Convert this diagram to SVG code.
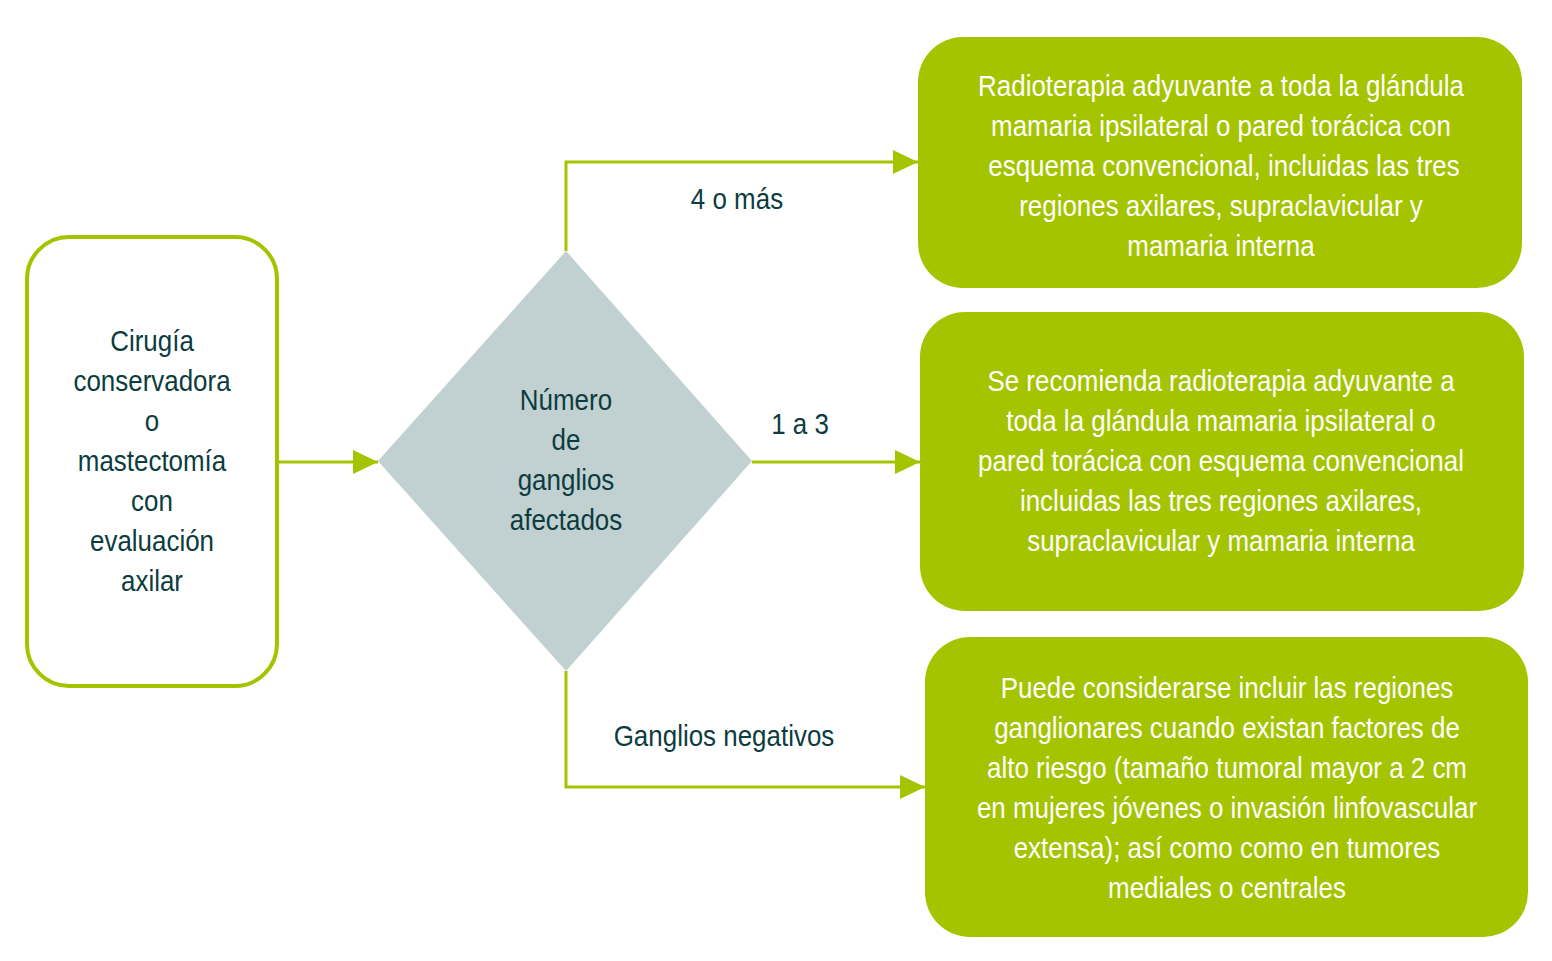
<svg xmlns="http://www.w3.org/2000/svg" width="1552" height="961" viewBox="0 0 1552 961">
<defs>
<style>
.t{font-family:"Liberation Sans",Arial,sans-serif;font-size:30px;text-anchor:middle;transform-box:fill-box;transform-origin:center;transform:scaleX(0.865)}
.dk{fill:#0c3c40}
.wt{fill:#ffffff}
.con{fill:none;stroke:#a4c400;stroke-width:3}
.box{fill:#a4c400}
</style>
<marker id="ah" markerUnits="userSpaceOnUse" markerWidth="26" markerHeight="26" refX="25" refY="12" orient="auto">
<path d="M0,0 L25,12 L0,24 Z" fill="#a4c400"/>
</marker>
</defs>
<rect width="1552" height="961" fill="#ffffff"/>
<g id="connectors">
<path class="con" d="M277,462 H378" marker-end="url(#ah)"/>
<path class="con" d="M566,251 V162 H918" marker-end="url(#ah)"/>
<path class="con" d="M752,462 H920" marker-end="url(#ah)"/>
<path class="con" d="M566,671 V787 H925" marker-end="url(#ah)"/>
<text class="t dk" x="737" y="209">4 o más</text>
<text class="t dk" x="800" y="434">1 a 3</text>
<text class="t dk" x="724" y="746">Ganglios negativos</text>
</g>
<g id="start">
<rect x="27" y="237" width="250" height="449" rx="42" ry="42" fill="#ffffff" stroke="#a4c400" stroke-width="4"/>
<text class="t dk" x="152" y="351">Cirugía</text>
<text class="t dk" x="152" y="391">conservadora</text>
<text class="t dk" x="152" y="431">o</text>
<text class="t dk" x="152" y="471">mastectomía</text>
<text class="t dk" x="152" y="511">con</text>
<text class="t dk" x="152" y="551">evaluación</text>
<text class="t dk" x="152" y="591">axilar</text>
</g>
<g id="decision">
<polygon points="566,251 752,461 566,671 378,461" fill="#c1d0d1"/>
<text class="t dk" x="566" y="410">Número</text>
<text class="t dk" x="566" y="450">de</text>
<text class="t dk" x="566" y="490">ganglios</text>
<text class="t dk" x="566" y="530">afectados</text>
</g>
<g id="r1">
<rect class="box" x="918" y="37" width="604" height="251" rx="45" ry="45"/>
<text class="t wt" x="1221" y="96">Radioterapia adyuvante a toda la glándula</text>
<text class="t wt" x="1221" y="136">mamaria ipsilateral o pared torácica con</text>
<text class="t wt" x="1224" y="176">esquema convencional, incluidas las tres</text>
<text class="t wt" x="1221" y="216">regiones axilares, supraclavicular y</text>
<text class="t wt" x="1221" y="256">mamaria interna</text>
</g>
<g id="r2">
<rect class="box" x="920" y="312" width="604" height="299" rx="45" ry="45"/>
<text class="t wt" x="1221" y="391">Se recomienda radioterapia adyuvante a</text>
<text class="t wt" x="1221" y="431">toda la glándula mamaria ipsilateral o</text>
<text class="t wt" x="1221" y="471">pared torácica con esquema convencional</text>
<text class="t wt" x="1221" y="511">incluidas las tres regiones axilares,</text>
<text class="t wt" x="1221" y="551">supraclavicular y mamaria interna</text>
</g>
<g id="r3">
<rect class="box" x="925" y="637" width="603" height="300" rx="45" ry="45"/>
<text class="t wt" x="1227" y="698">Puede considerarse incluir las regiones</text>
<text class="t wt" x="1227" y="738">ganglionares cuando existan factores de</text>
<text class="t wt" x="1227" y="778">alto riesgo (tamaño tumoral mayor a 2 cm</text>
<text class="t wt" x="1227" y="818">en mujeres jóvenes o invasión linfovascular</text>
<text class="t wt" x="1227" y="858">extensa); así como como en tumores</text>
<text class="t wt" x="1227" y="898">mediales o centrales</text>
</g>
</svg>
